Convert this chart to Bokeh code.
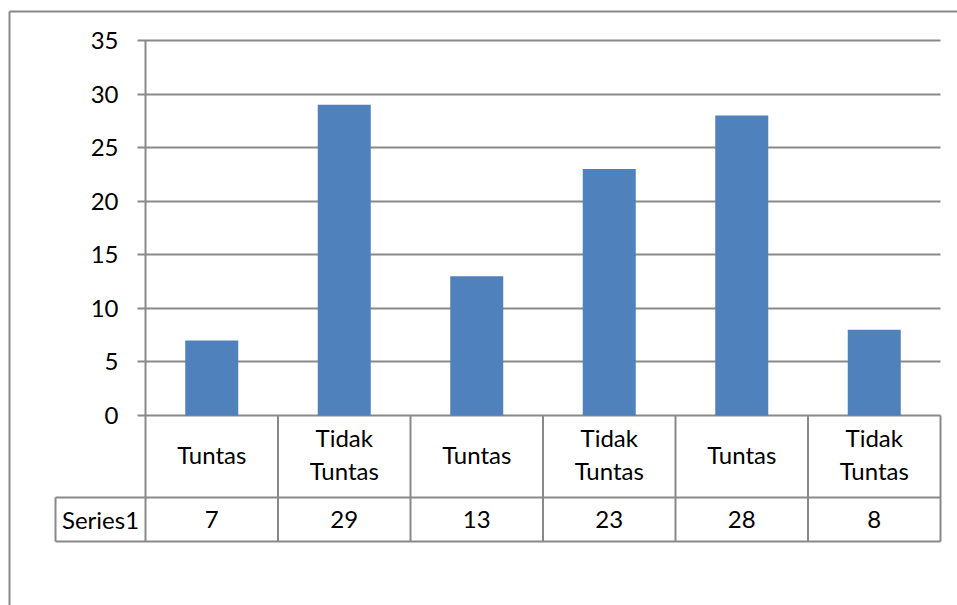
from bokeh.plotting import figure
from bokeh.models import Range1d, FixedTicker, LinearAxis, ColumnDataSource
from bokeh.embed import file_html
from bokeh.resources import INLINE
from bokeh.core.properties import value

categories = ["Tuntas", "Tidak Tuntas", "Tuntas", "Tidak Tuntas", "Tuntas", "Tidak Tuntas"]
series_name = "Series1"
values = [7, 29, 13, 23, 28, 8]
y_ticks = [0, 5, 10, 15, 20, 25, 30, 35]

FONT = "Lato"
FS = "24px"
GRAY = "#898989"
BLUE = "#4F81BD"

n = len(categories)
xs = list(range(1, n + 1))

# pixel layout of the chart (page coordinates)
W, H = 957, 605
BORDER_L, BORDER_T = 9, 11          # outer chart border
PX_L, PX_R = 145, 940               # plot area left / right
PY_TOP, PY_ZERO = 40, 415           # y of top tick and of zero
ROW1_PX, ROW2_PX = 497, 541         # bottoms of the data-table rows
CELL_L = 55                         # left edge of the series-name cell
TICK = 8
LABEL_R = 118                       # right edge of y tick labels

xu = (PX_R - PX_L) / n              # px per category
yu = (PY_ZERO - PY_TOP) / max(y_ticks)  # px per value unit
x0 = 0.5 - (PX_L - BORDER_L) / xu
x1 = 0.5 + (W - PX_L) / xu
y1 = (PY_ZERO - BORDER_T) / yu
y0 = -(H - PY_ZERO) / yu
ROW1 = -(ROW1_PX - PY_ZERO) / yu
ROW2 = -(ROW2_PX - PY_ZERO) / yu
xl = 0.5                              # left edge of plot area (data)
xr = n + 0.5
xcell = 0.5 - (PX_L - CELL_L) / xu

p = figure(width=W, height=H, output_backend="svg", toolbar_location=None,
           x_range=Range1d(x0, x1), y_range=Range1d(y0, y1),
           x_axis_location=None, y_axis_location=None,
           min_border_left=BORDER_L, min_border_right=0,
           min_border_top=BORDER_T, min_border_bottom=0)
p.outline_line_color = None
p.background_fill_color = "white"
p.border_fill_color = "white"
p.xgrid.visible = False

# y axis: its line is the chart's outer left border, its labels sit inside
ya = LinearAxis(ticker=FixedTicker(ticks=y_ticks))
ya.minor_tick_line_color = None
ya.major_tick_in = 0
ya.major_tick_out = 0
ya.axis_line_color = GRAY
ya.axis_line_width = 2
ya.major_label_standoff = -(LABEL_R - BORDER_L)
ya.major_label_text_font = FONT
ya.major_label_text_font_size = FS
ya.major_label_text_color = "black"
p.add_layout(ya, "left")

# top axis: only its line, the outer top border
ta = LinearAxis(ticker=FixedTicker(ticks=[]))
ta.major_tick_in = 0
ta.major_tick_out = 0
ta.minor_tick_line_color = None
ta.major_label_standoff = 0
ta.axis_line_color = GRAY
ta.axis_line_width = 2
p.add_layout(ta, "above")

# horizontal gridlines incl. the outside tick marks
p.ygrid.ticker = FixedTicker(ticks=y_ticks)
p.ygrid.cross_bounds = (xl - TICK / xu, xr)
p.ygrid.grid_line_color = GRAY
p.ygrid.grid_line_width = 2

src = ColumnDataSource(dict(x=xs, top=values,
                            cat=[c.replace(" ", "\n") for c in categories],
                            val=[str(v) for v in values]))
p.vbar(x="x", top="top", width=0.4, bottom=0, source=src, fill_color=BLUE, line_color=None)

# plot-area vertical axis line
p.segment(x0=[xl], y0=[ROW2], x1=[xl], y1=[max(y_ticks)], line_color=GRAY, line_width=2)
# data table lines
bounds = [i + 0.5 for i in range(1, n + 1)]
p.segment(x0=bounds, y0=[0] * n, x1=bounds, y1=[ROW2] * n, line_color=GRAY, line_width=2)
p.segment(x0=[xcell, xcell, xcell], y0=[ROW1, ROW2, ROW1], x1=[xr, xr, xcell], y1=[ROW1, ROW2, ROW2],
          line_color=GRAY, line_width=2)

ycat = -(453.5 - PY_ZERO) / yu
yval = (ROW1 + ROW2) / 2
p.text(x="x", y=ycat, text="cat", source=src, text_align="center", text_baseline="middle",
       text_font=value(FONT), text_font_size=FS, text_color="black", text_line_height=1.15)
p.text(x="x", y=yval, text="val", source=src, text_align="center", text_baseline="middle",
       text_font=value(FONT), text_font_size=FS, text_color="black")
p.text(x=[(xcell + xl) / 2], y=[yval], text=[series_name], text_align="center",
       text_baseline="middle", text_font=value(FONT), text_font_size=FS, text_color="black")

open("out.html", "w").write(file_html(p, INLINE))
